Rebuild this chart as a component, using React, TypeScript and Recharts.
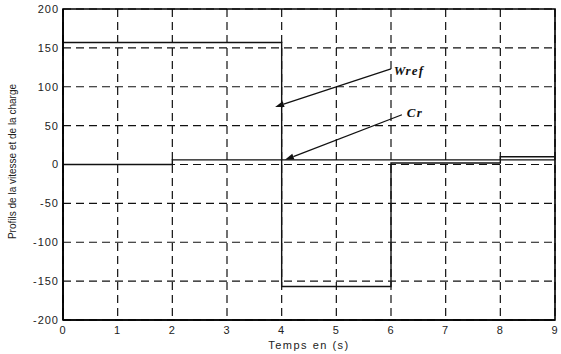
import {
  LineChart,
  Line,
  XAxis,
  YAxis,
  CartesianGrid,
  ReferenceLine,
  ReferenceDot,
  ReferenceArea,
  Label,
} from "recharts";

// step profiles (value holds until the next time)
const wrefTimes = [0, 4, 6, 8, 9];
const wrefValues = [157, -157, 2, 10, 10];
const crTimes = [0, 2, 9];
const crValues = [0, 6, 6];

const xTicks = [0, 1, 2, 3, 4, 5, 6, 7, 8, 9];
const yTicks = [-200, -150, -100, -50, 0, 50, 100, 150, 200];

// annotation arrows, in data units: tail -> head
const arrowNames = ["Wref", "Cr"];
const arrowTails = [
  [6.0, 123],
  [6.2, 64],
];
const arrowHeads = [
  [3.88, 74],
  [4.06, 6],
];
const labelPoints = [
  [6.05, 121],
  [6.29, 67],
];

const wrefData = wrefTimes.map((t, i) => ({ t, v: wrefValues[i] }));
const crData = crTimes.map((t, i) => ({ t, v: crValues[i] }));

const sans = "'Liberation Sans', Arial, sans-serif";
const serif = "'Liberation Serif', 'Times New Roman', serif";

const tickStyle = {
  fontSize: 11,
  fontFamily: sans,
  fill: "#222",
  letterSpacing: 1,
};

function Arrow(props: any) {
  const { x1, y1, x2, y2 } = props;
  const dx = x2 - x1;
  const dy = y2 - y1;
  const len = Math.sqrt(dx * dx + dy * dy) || 1;
  const ux = dx / len;
  const uy = dy / len;
  const L = 9;
  const W = 3;
  const bx = x2 - ux * L;
  const by = y2 - uy * L;
  const pts = `${x2},${y2} ${bx - uy * W},${by + ux * W} ${bx + uy * W},${by - ux * W}`;
  return (
    <g>
      <line x1={x1} y1={y1} x2={bx} y2={by} stroke="#111" strokeWidth={1.3} />
      <polygon points={pts} fill="#111" />
    </g>
  );
}

function makeTag(text: string) {
  return (props: any) => (
    <text
      x={props.cx}
      y={props.cy}
      dy="0.35em"
      textAnchor="start"
      style={{
        fontFamily: serif,
        fontWeight: "bold",
        fontStyle: "italic",
        fontSize: 13,
        letterSpacing: 1.2,
      }}
      fill="#111"
    >
      {text}
    </text>
  );
}

function YTitle(props: any) {
  const vb = props.viewBox || {};
  const x = 12;
  const y = (vb.y || 9) + (vb.height || 311) / 2 - 3;
  return (
    <text
      x={x}
      y={y}
      transform={`rotate(-90, ${x}, ${y})`}
      textAnchor="middle"
      dominantBaseline="central"
      style={{ fontSize: 10, fontFamily: sans }}
      fill="#222"
    >
      Profils de la vitesse et de la charge
    </text>
  );
}

export default function App() {
  return (
    <div style={{ position: "absolute", left: 0, top: 0, background: "#fff" }}>
      <LineChart
        width={561}
        height={354}
        margin={{ top: 9, right: 6, left: 23, bottom: 0 }}
      >
        <CartesianGrid
          xAxisId="b"
          yAxisId="l"
          stroke="#111"
          strokeWidth={1.2}
          strokeDasharray="8 5"
        />
        <XAxis
          xAxisId="b"
          type="number"
          dataKey="t"
          domain={[0, 9]}
          ticks={xTicks}
          allowDataOverflow
          height={34}
          tickLine={false}
          tickSize={4}
          tickMargin={2}
          axisLine={{ stroke: "#000", strokeWidth: 1.6 }}
          tick={tickStyle}
        >
          <Label
            value="Temps en (s)"
            position="insideBottom"
            offset={5}
            style={{
              fontSize: 11,
              fontFamily: sans,
              fill: "#222",
              letterSpacing: 1.5,
            }}
          />
        </XAxis>
        <YAxis
          yAxisId="l"
          type="number"
          domain={[-200, 200]}
          ticks={yTicks}
          width={40}
          tickLine={false}
          tickSize={4}
          tickMargin={0}
          axisLine={{ stroke: "#000", strokeWidth: 1.6 }}
          tick={tickStyle}
        >
          <Label content={<YTitle />} />
        </YAxis>
        <ReferenceArea
          xAxisId="b"
          yAxisId="l"
          x1={0}
          x2={9}
          y1={-200}
          y2={200}
          ifOverflow="visible"
          fill="none"
          fillOpacity={0}
          stroke="#000"
          strokeWidth={1.6}
        />
        <Line
          xAxisId="b"
          yAxisId="l"
          data={wrefData}
          dataKey="v"
          type="stepAfter"
          stroke="#111"
          strokeWidth={1.4}
          dot={false}
          isAnimationActive={false}
        />
        <Line
          xAxisId="b"
          yAxisId="l"
          data={crData}
          dataKey="v"
          type="stepAfter"
          stroke="#111"
          strokeWidth={1.4}
          dot={false}
          isAnimationActive={false}
        />
        {arrowNames.map((name, i) => (
          <ReferenceLine
            key={`a-${name}`}
            xAxisId="b"
            yAxisId="l"
            ifOverflow="visible"
            segment={[
              { x: arrowTails[i][0], y: arrowTails[i][1] },
              { x: arrowHeads[i][0], y: arrowHeads[i][1] },
            ]}
            shape={Arrow}
          />
        ))}
        {arrowNames.map((name, i) => (
          <ReferenceDot
            key={`l-${name}`}
            xAxisId="b"
            yAxisId="l"
            ifOverflow="visible"
            x={labelPoints[i][0]}
            y={labelPoints[i][1]}
            r={0}
            shape={makeTag(name)}
          />
        ))}
      </LineChart>
    </div>
  );
}
